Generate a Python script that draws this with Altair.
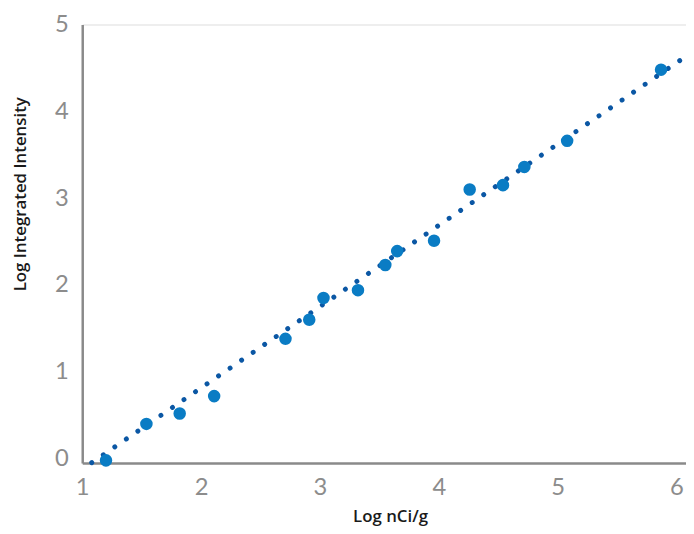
import altair as alt
import pandas as pd

# Measured data points (Log nCi/g vs Log Integrated Intensity)
log_nci = [1.20, 1.54, 1.82, 2.11, 2.71, 2.91, 3.03, 3.32, 3.55, 3.65, 3.96, 4.26, 4.54, 4.72, 5.08, 5.87]
log_intensity = [-0.02, 0.40, 0.52, 0.72, 1.38, 1.60, 1.85, 1.94, 2.23, 2.39, 2.51, 3.10, 3.15, 3.36, 3.66, 4.48]

# Trendline end points
trend_x = [1.08, 6.08]
trend_y = [-0.046, 4.634]

x_ticks = [1, 2, 3, 4, 5, 6]
y_ticks = [0, 1, 2, 3, 4, 5]

df = pd.DataFrame({"x": log_nci, "y": log_intensity})
df_trend = pd.DataFrame({"x": trend_x, "y": trend_y})

x_scale = alt.Scale(domain=[1, 6.08], nice=False, zero=False)
y_scale = alt.Scale(domain=[-0.05, 5], nice=False, zero=False)

x_axis = alt.Axis(
    values=x_ticks, format="d", title="Log nCi/g", grid=False, ticks=False,
    labelFlush=False, labelOverlap=False,
    domainColor="#8a8a8a", domainWidth=2.5,
    labelFont="Lato", labelFontSize=24, labelColor="#8c8c8c", labelPadding=13,
    titleFont="Open Sans", titleFontSize=17, titleFontWeight=600, titleColor="#1a1a1a",
    titleX=311, titleY=54, titleBaseline="middle", titleAlign="center",
)
y_axis = alt.Axis(
    values=y_ticks, format="d", title="Log Integrated Intensity", grid=False, ticks=False,
    labelFlush=False, labelOverlap=False,
    domainColor="#8a8a8a", domainWidth=2.5,
    labelFont="Lato", labelFontSize=24, labelColor="#8c8c8c", labelPadding=14,
    titleFont="Open Sans", titleFontSize=17, titleFontWeight=600, titleColor="#1a1a1a",
    titleX=-62, titleY=171, titleBaseline="middle", titleAlign="center", titleAngle=270,
)

trend = alt.Chart(df_trend).mark_line(
    color="#0b57a4", strokeWidth=5, strokeCap="round", strokeDash=[0.01, 14.1]
).encode(
    x=alt.X("x:Q", scale=x_scale, axis=x_axis),
    y=alt.Y("y:Q", scale=y_scale, axis=y_axis),
)

points = alt.Chart(df).mark_circle(size=160, opacity=1, color="#0a7cc4").encode(
    x=alt.X("x:Q", scale=x_scale),
    y=alt.Y("y:Q", scale=y_scale),
)

chart = alt.layer(trend, points).properties(
    width=610, height=443,
    autosize=alt.AutoSizeParams(type="none"),
    padding={"left": 75, "top": 14, "right": 0, "bottom": 61},
).configure_view(stroke=None).configure(background="white")

chart.save("out.html", embed_options={"renderer": "svg", "actions": False})
